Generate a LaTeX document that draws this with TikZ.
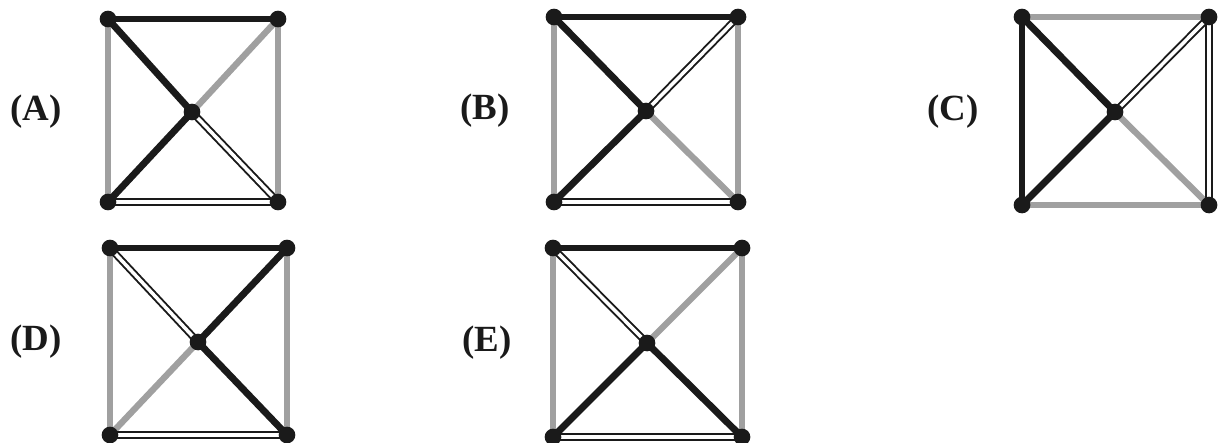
\documentclass[tikz,border=0pt]{standalone}
\usepackage{fontspec}
\setmainfont{Liberation Serif}
\usetikzlibrary{backgrounds}
\definecolor{negroArista}{HTML}{1A1A1A}
\definecolor{grisArista}{HTML}{A0A0A0}
\tikzset{
  vertice/.style={circle, fill=negroArista, inner sep=0pt, minimum size=9.5pt},
  aristaNegra/.style={draw=negroArista, line width=3.9pt},
  aristaGris/.style={draw=grisArista, line width=3.6pt},
  aristaDoble/.style={draw=negroArista, line width=1.1pt, double=white, double distance=2pt},
  etiquetaPanel/.style={font=\fontsize{21}{25}\selectfont\bfseries, text=negroArista},
}
\begin{document}
\begin{tikzpicture}[x=0.02cm, y=-0.02cm]
  \useasboundingbox (0,0) rectangle (1221,443);

  % vertices de cada cuadro: esquinas, centro y etiqueta
  \foreach \p/\xa/\ya/\xb/\yb/\xc/\yc/\xe in {
      A/108/19/278/202/192/112/36,
      B/554/17/738/202/646/111/485,
      C/1022/17/1209/205/1115/112/953,
      D/110/248/287/435/198/342/36,
      E/553/248/742/437/647/343/487}{
    \node[vertice] (\p-si) at (\xa,\ya) {};
    \node[vertice] (\p-sd) at (\xb,\ya) {};
    \node[vertice] (\p-ii) at (\xa,\yb) {};
    \node[vertice] (\p-id) at (\xb,\yb) {};
    \node[vertice] (\p-c) at (\xc,\yc) {};
    \node[etiquetaPanel] (\p-lab) at (\xe,\yc) {(\p)};
  }

  \begin{scope}[on background layer]
    % aristas grises
    \foreach \a/\b in {A-si/A-ii, A-sd/A-id, A-c/A-sd,
                       B-si/B-ii, B-sd/B-id, B-c/B-id,
                       C-si/C-sd, C-ii/C-id, C-c/C-id,
                       D-si/D-ii, D-sd/D-id, D-c/D-ii,
                       E-si/E-ii, E-sd/E-id, E-c/E-sd}
      \draw[aristaGris] (\a.center) -- (\b.center);
    % aristas negras
    \foreach \a/\b in {A-si/A-sd, A-si/A-c, A-c/A-ii,
                       B-si/B-sd, B-si/B-c, B-c/B-ii,
                       C-si/C-ii, C-si/C-c, C-c/C-ii,
                       D-si/D-sd, D-c/D-sd, D-c/D-id,
                       E-si/E-sd, E-c/E-ii, E-c/E-id}
      \draw[aristaNegra] (\a.center) -- (\b.center);
    % aristas dobles
    \foreach \a/\b in {A-ii/A-id, A-c/A-id,
                       B-ii/B-id, B-c/B-sd,
                       C-sd/C-id, C-c/C-sd,
                       D-ii/D-id, D-si/D-c,
                       E-ii/E-id, E-si/E-c}
      \draw[aristaDoble] (\a.center) -- (\b.center);
  \end{scope}
\end{tikzpicture}
\end{document}
